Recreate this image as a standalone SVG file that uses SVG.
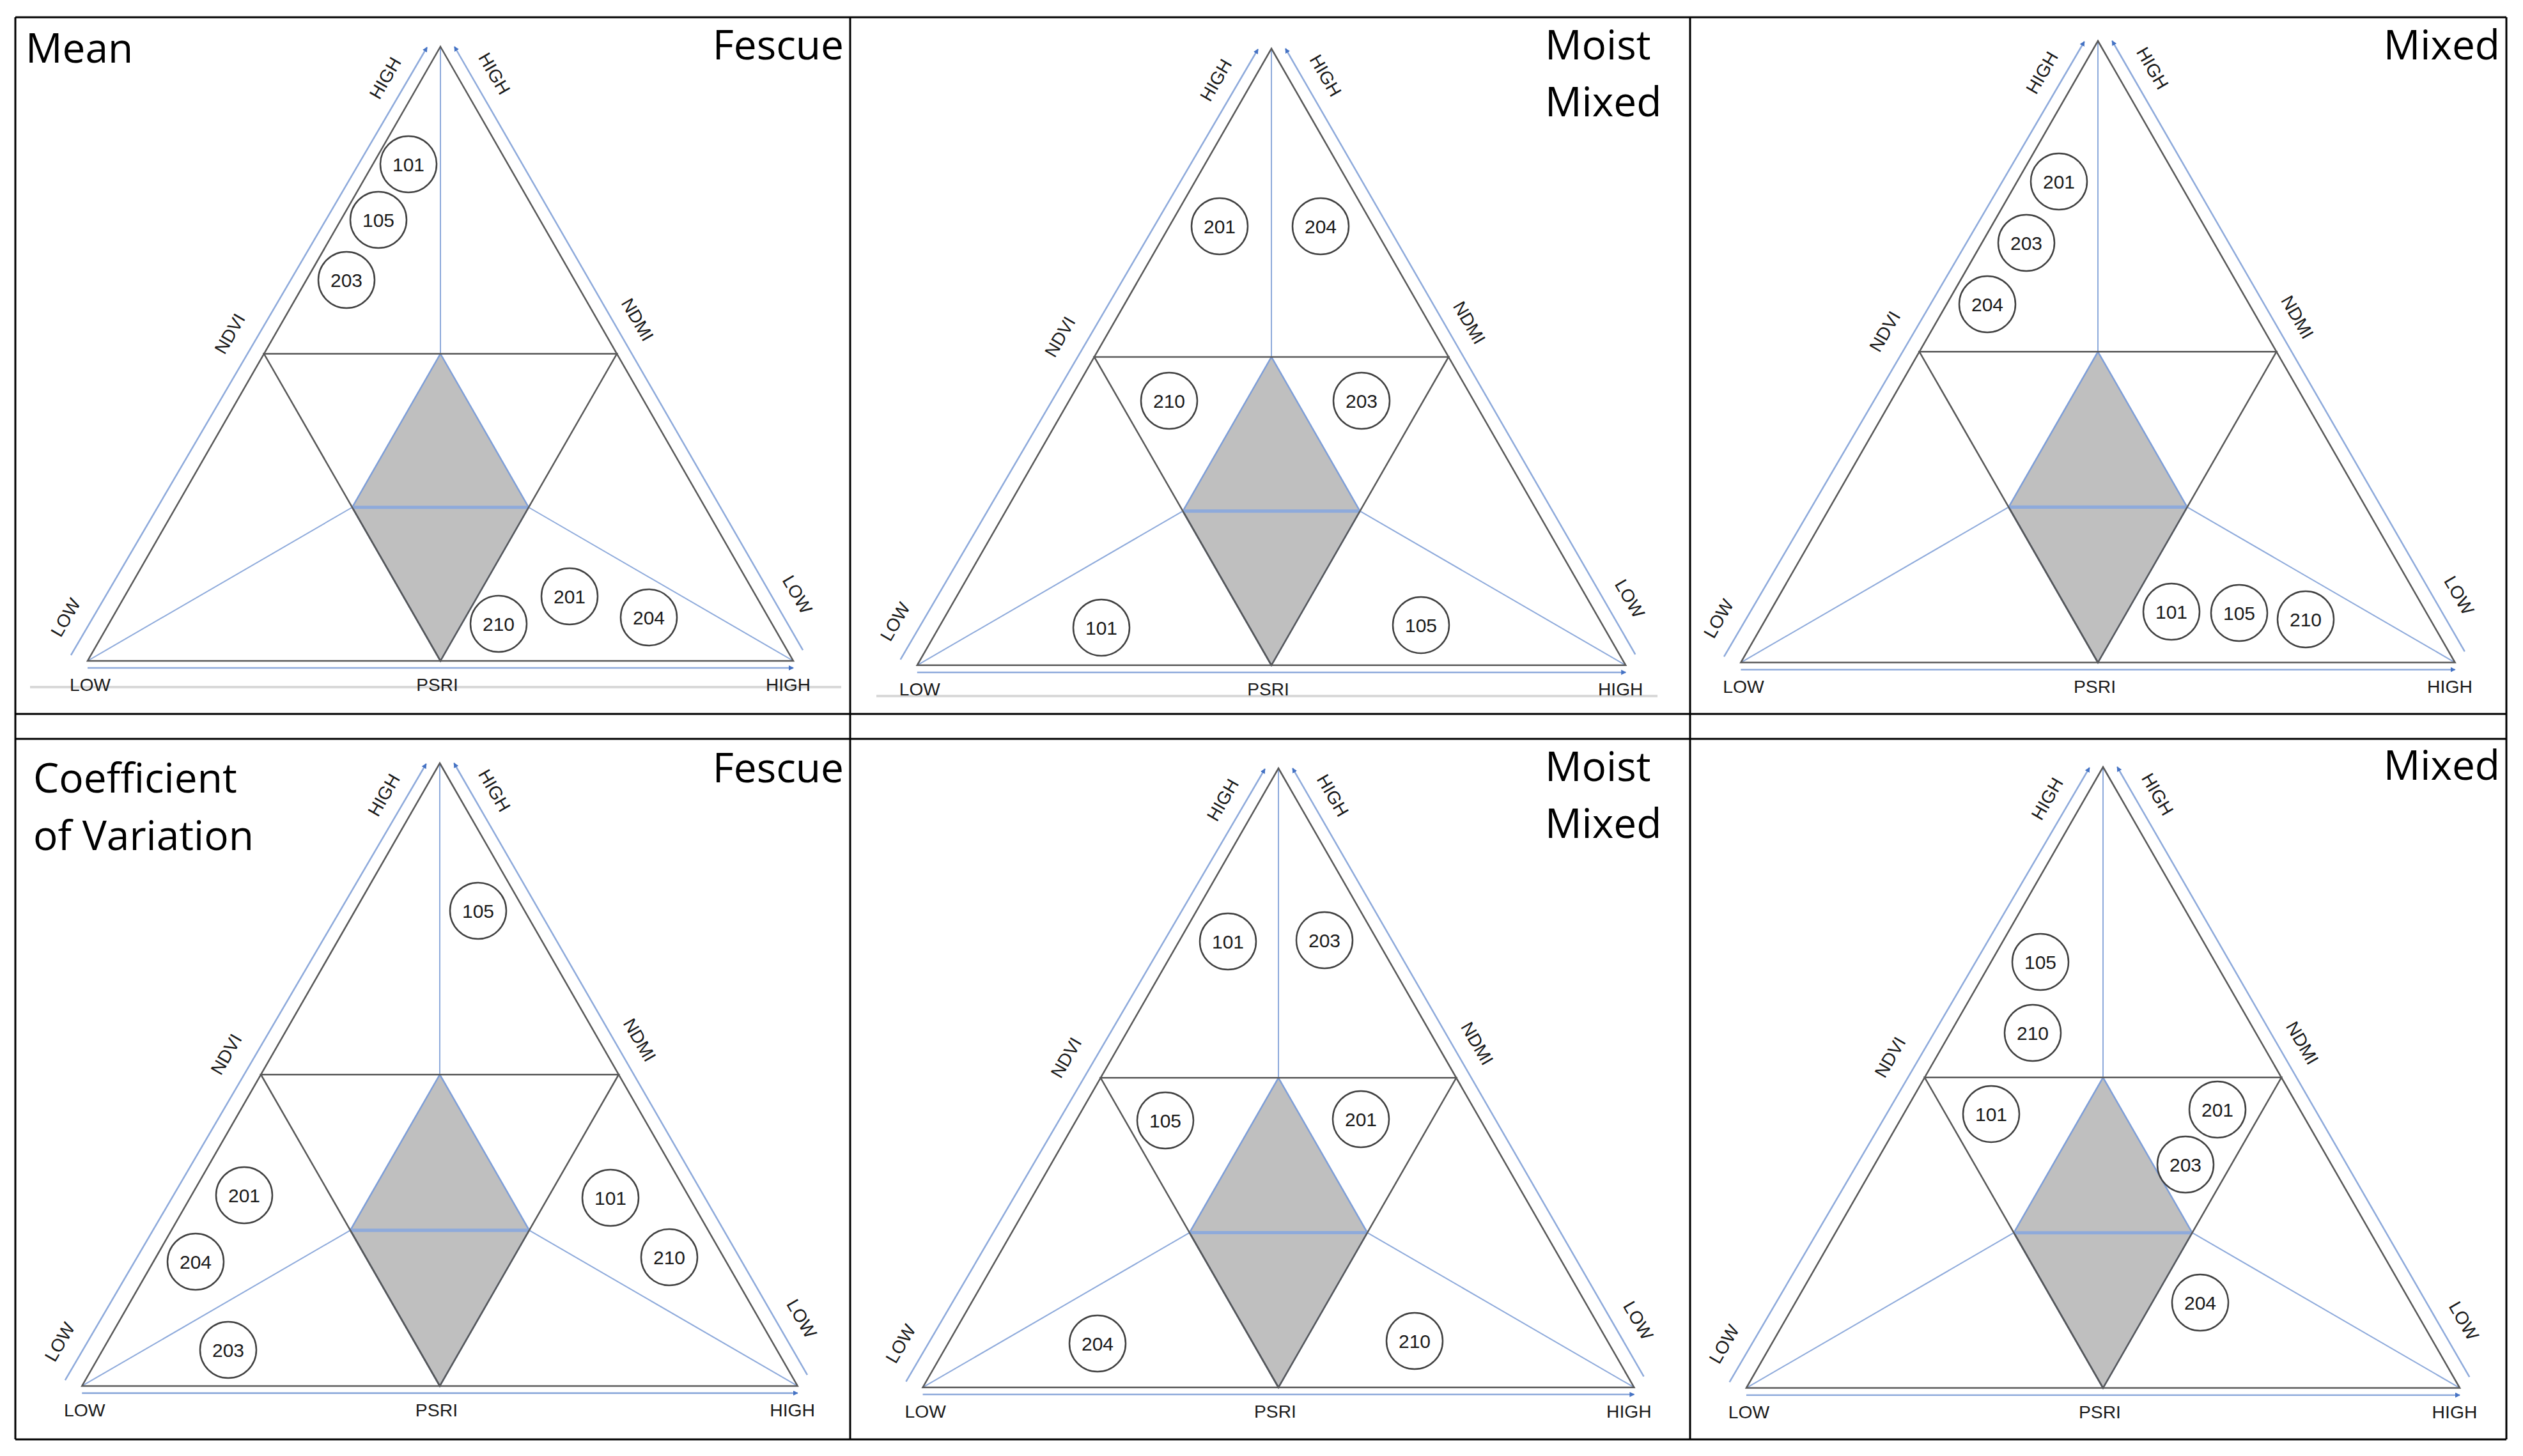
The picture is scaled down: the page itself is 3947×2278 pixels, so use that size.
<svg xmlns="http://www.w3.org/2000/svg" width="3947" height="2278" viewBox="0 0 3947 2278">
<style>
.tri{fill:none;stroke:#595959;stroke-width:2.5}
.dia{fill:#bfbfbf;stroke:#7f9fd8;stroke-width:2.5}
.bl{fill:none;stroke:#8eaadb;stroke-width:2}
.mid{stroke:#8eaadb;stroke-width:5}
.ax{fill:none;stroke:#8eaadb;stroke-width:2.5;marker-end:url(#arr)}
.lab{font-family:"Liberation Sans",Arial,sans-serif;font-size:28px;fill:#1a1a1a;text-anchor:middle}
.title{font-family:"Open Sans","Liberation Sans",sans-serif;font-size:64px;fill:#000}
.c circle{fill:none;stroke:#404040;stroke-width:2.5}
.c text{font-family:"Liberation Sans",Arial,sans-serif;font-size:30px;fill:#1a1a1a;text-anchor:middle;dominant-baseline:central}
.grid{stroke:#000;stroke-width:3}
</style>
<defs>
<marker id="arr" markerWidth="8" markerHeight="8" refX="7" refY="4" orient="auto" markerUnits="userSpaceOnUse"><path d="M0,0 L8,4 L0,8 z" fill="#4472c4"/></marker>
<g id="frame">
<path class="dia" d="M0,480.5 L138,720.75 L0,961 L-138,720.75 z"/>
<path d="M-138,720.75 L0,961" stroke="#44546a" stroke-width="2.5"/>
<line class="mid" x1="-138" y1="720.75" x2="138" y2="720.75"/>
<line class="bl" x1="0" y1="0" x2="0" y2="480.5"/>
<line class="bl" x1="-552" y1="961" x2="-138" y2="720.75"/>
<line class="bl" x1="552" y1="961" x2="138" y2="720.75"/>
<path class="tri" d="M0,0 L552,961 L-552,961 z"/>
<path class="tri" d="M-276,480.5 L276,480.5 L0,961 z"/>
<line class="ax" x1="-578" y1="952" x2="-21" y2="1"/>
<line class="ax" x1="567" y1="944" x2="22" y2="0"/>
<line class="ax" x1="-552" y1="972" x2="552" y2="972"/>
<text class="lab" x="-548" y="1008">LOW</text>
<text class="lab" x="-5" y="1008">PSRI</text>
<text class="lab" x="544" y="1008">HIGH</text>
<text class="lab" transform="translate(-321,454) rotate(-60)">NDVI</text>
<text class="lab" transform="translate(-78,54) rotate(-60)">HIGH</text>
<text class="lab" transform="translate(-578,898) rotate(-60)">LOW</text>
<text class="lab" transform="translate(76,47) rotate(60)">HIGH</text>
<text class="lab" transform="translate(300,432) rotate(60)">NDMI</text>
<text class="lab" transform="translate(550,862) rotate(60)">LOW</text>
</g>
</defs>
<rect width="3947" height="2278" fill="#fff"/>
<g id="connectors">
<line class="grid" x1="24" y1="27" x2="3921" y2="27"/>
<line class="grid" x1="24" y1="1117" x2="3921" y2="1117"/>
<line class="grid" x1="24" y1="1156" x2="3921" y2="1156"/>
<line class="grid" x1="24" y1="2252" x2="3921" y2="2252"/>
<line class="grid" x1="24" y1="27" x2="24" y2="2252"/>
<line class="grid" x1="1330" y1="27" x2="1330" y2="2252"/>
<line class="grid" x1="2644" y1="27" x2="2644" y2="2252"/>
<line class="grid" x1="3921" y1="27" x2="3921" y2="2252"/>
<line x1="47" y1="1075" x2="1316" y2="1075" stroke="#d9d9d9" stroke-width="4"/>
<line x1="1371" y1="1089" x2="2593" y2="1089" stroke="#d9d9d9" stroke-width="4"/>
</g>
<g id="panel1">
<use href="#frame" transform="translate(689,73)"/>
<text class="title" x="40" y="98">Mean</text>
<text class="title" x="1320" y="93" text-anchor="end">Fescue</text>
<g class="c" id="p1-101"><circle cx="639" cy="257" r="44"/><text x="639" y="257">101</text></g>
<g class="c" id="p1-105"><circle cx="592" cy="344" r="44"/><text x="592" y="344">105</text></g>
<g class="c" id="p1-203"><circle cx="542" cy="438" r="44"/><text x="542" y="438">203</text></g>
<g class="c" id="p1-210"><circle cx="780" cy="976" r="44"/><text x="780" y="976">210</text></g>
<g class="c" id="p1-201"><circle cx="891" cy="933" r="44"/><text x="891" y="933">201</text></g>
<g class="c" id="p1-204"><circle cx="1015" cy="966" r="44"/><text x="1015" y="966">204</text></g>
</g>
<g id="panel2">
<use href="#frame" transform="translate(1989,76) scale(1.004)"/>
<text class="title" x="2417" y="93">Moist</text>
<text class="title" x="2417" y="182">Mixed</text>
<g class="c" id="p2-201"><circle cx="1908" cy="354" r="44"/><text x="1908" y="354">201</text></g>
<g class="c" id="p2-204"><circle cx="2066" cy="354" r="44"/><text x="2066" y="354">204</text></g>
<g class="c" id="p2-210"><circle cx="1829" cy="627" r="44"/><text x="1829" y="627">210</text></g>
<g class="c" id="p2-203"><circle cx="2130" cy="627" r="44"/><text x="2130" y="627">203</text></g>
<g class="c" id="p2-101"><circle cx="1723" cy="982" r="44"/><text x="1723" y="982">101</text></g>
<g class="c" id="p2-105"><circle cx="2223" cy="978" r="44"/><text x="2223" y="978">105</text></g>
</g>
<g id="panel3">
<use href="#frame" transform="translate(3282,64) scale(1.012)"/>
<text class="title" x="3911" y="93" text-anchor="end">Mixed</text>
<g class="c" id="p3-201"><circle cx="3221" cy="284" r="44"/><text x="3221" y="284">201</text></g>
<g class="c" id="p3-203"><circle cx="3170" cy="380" r="44"/><text x="3170" y="380">203</text></g>
<g class="c" id="p3-204"><circle cx="3109" cy="476" r="44"/><text x="3109" y="476">204</text></g>
<g class="c" id="p3-101"><circle cx="3397" cy="957" r="44"/><text x="3397" y="957">101</text></g>
<g class="c" id="p3-105"><circle cx="3503" cy="959" r="44"/><text x="3503" y="959">105</text></g>
<g class="c" id="p3-210"><circle cx="3607" cy="969" r="44"/><text x="3607" y="969">210</text></g>
</g>
<g id="panel4">
<use href="#frame" transform="translate(688,1194) scale(1.014)"/>
<text class="title" x="52" y="1240">Coefficient</text>
<text class="title" x="52" y="1330">of Variation</text>
<text class="title" x="1320" y="1224" text-anchor="end">Fescue</text>
<g class="c" id="p4-105"><circle cx="748" cy="1425" r="44"/><text x="748" y="1425">105</text></g>
<g class="c" id="p4-201"><circle cx="382" cy="1870" r="44"/><text x="382" y="1870">201</text></g>
<g class="c" id="p4-204"><circle cx="306" cy="1974" r="44"/><text x="306" y="1974">204</text></g>
<g class="c" id="p4-203"><circle cx="357" cy="2112" r="44"/><text x="357" y="2112">203</text></g>
<g class="c" id="p4-101"><circle cx="955" cy="1874" r="44"/><text x="955" y="1874">101</text></g>
<g class="c" id="p4-210"><circle cx="1047" cy="1967" r="44"/><text x="1047" y="1967">210</text></g>
</g>
<g id="panel5">
<use href="#frame" transform="translate(2000,1202) scale(1.008)"/>
<text class="title" x="2417" y="1222">Moist</text>
<text class="title" x="2417" y="1311">Mixed</text>
<g class="c" id="p5-101"><circle cx="1921" cy="1473" r="44"/><text x="1921" y="1473">101</text></g>
<g class="c" id="p5-203"><circle cx="2072" cy="1471" r="44"/><text x="2072" y="1471">203</text></g>
<g class="c" id="p5-105"><circle cx="1823" cy="1753" r="44"/><text x="1823" y="1753">105</text></g>
<g class="c" id="p5-201"><circle cx="2129" cy="1751" r="44"/><text x="2129" y="1751">201</text></g>
<g class="c" id="p5-204"><circle cx="1717" cy="2102" r="44"/><text x="1717" y="2102">204</text></g>
<g class="c" id="p5-210"><circle cx="2213" cy="2098" r="44"/><text x="2213" y="2098">210</text></g>
</g>
<g id="panel6">
<use href="#frame" transform="translate(3290,1200) scale(1.011)"/>
<text class="title" x="3911" y="1220" text-anchor="end">Mixed</text>
<g class="c" id="p6-105"><circle cx="3192" cy="1505" r="44"/><text x="3192" y="1505">105</text></g>
<g class="c" id="p6-210"><circle cx="3180" cy="1616" r="44"/><text x="3180" y="1616">210</text></g>
<g class="c" id="p6-101"><circle cx="3115" cy="1743" r="44"/><text x="3115" y="1743">101</text></g>
<g class="c" id="p6-201"><circle cx="3469" cy="1736" r="44"/><text x="3469" y="1736">201</text></g>
<g class="c" id="p6-203"><circle cx="3419" cy="1822" r="44"/><text x="3419" y="1822">203</text></g>
<g class="c" id="p6-204"><circle cx="3442" cy="2038" r="44"/><text x="3442" y="2038">204</text></g>
</g>
</svg>
